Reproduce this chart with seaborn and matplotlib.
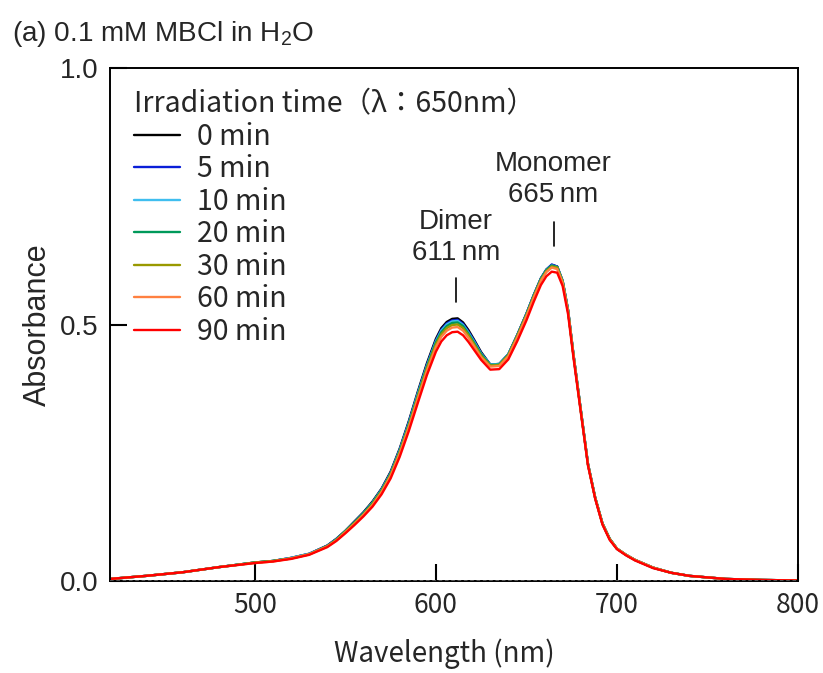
import pandas as pd
import matplotlib
matplotlib.use('Agg')
import matplotlib.pyplot as plt
import seaborn as sns
from matplotlib.font_manager import FontProperties

# wavelength grid (nm)
wavelength = [420, 440, 460, 480, 500, 510, 520, 530,
              540, 545, 550, 555, 560, 565, 570, 575, 580, 585, 590, 595, 600,
              603, 606, 609, 612, 615, 618, 621, 625,
              630, 635, 640, 645, 650,
              654, 658, 661, 664, 667, 670, 673, 676,
              680, 684, 688, 692, 696, 700,
              705, 710, 720, 730, 740, 760, 780, 800]

abs_0min = [0.004, 0.010, 0.017, 0.027, 0.036, 0.039, 0.045, 0.053,
            0.069, 0.082, 0.098, 0.116, 0.134, 0.155, 0.180, 0.213, 0.258, 0.311, 0.369, 0.424, 0.472,
            0.493, 0.505, 0.511, 0.512, 0.504, 0.489, 0.471, 0.446,
            0.422, 0.423, 0.442, 0.480, 0.521,
            0.557, 0.590, 0.607, 0.616, 0.613, 0.585, 0.528, 0.441,
            0.334, 0.228, 0.162, 0.112, 0.082, 0.063,
            0.051, 0.041, 0.026, 0.016, 0.010, 0.004, 0.002, 0.001]
abs_5min = [0.004, 0.010, 0.017, 0.027, 0.036, 0.039, 0.045, 0.053,
            0.069, 0.082, 0.097, 0.115, 0.133, 0.153, 0.179, 0.211, 0.256, 0.309, 0.366, 0.421, 0.469,
            0.490, 0.502, 0.508, 0.509, 0.501, 0.486, 0.469, 0.444,
            0.422, 0.423, 0.442, 0.480, 0.521,
            0.557, 0.590, 0.607, 0.617, 0.613, 0.585, 0.528, 0.441,
            0.334, 0.228, 0.162, 0.112, 0.082, 0.063,
            0.051, 0.041, 0.026, 0.016, 0.010, 0.004, 0.002, 0.001]
abs_10min = [0.004, 0.010, 0.017, 0.027, 0.036, 0.039, 0.045, 0.053,
             0.068, 0.081, 0.097, 0.114, 0.132, 0.153, 0.178, 0.210, 0.255, 0.307, 0.365, 0.419, 0.467,
             0.488, 0.500, 0.506, 0.507, 0.499, 0.484, 0.467, 0.443,
             0.422, 0.423, 0.442, 0.479, 0.520,
             0.556, 0.589, 0.606, 0.615, 0.612, 0.585, 0.528, 0.441,
             0.334, 0.228, 0.162, 0.112, 0.082, 0.063,
             0.051, 0.041, 0.026, 0.016, 0.010, 0.004, 0.002, 0.001]
abs_20min = [0.004, 0.010, 0.017, 0.027, 0.036, 0.039, 0.044, 0.052,
             0.068, 0.081, 0.097, 0.114, 0.132, 0.152, 0.177, 0.209, 0.253, 0.305, 0.362, 0.417, 0.465,
             0.485, 0.497, 0.503, 0.504, 0.497, 0.482, 0.465, 0.442,
             0.421, 0.422, 0.441, 0.479, 0.520,
             0.556, 0.589, 0.606, 0.615, 0.612, 0.584, 0.527, 0.440,
             0.334, 0.228, 0.162, 0.112, 0.082, 0.063,
             0.051, 0.041, 0.026, 0.016, 0.010, 0.004, 0.002, 0.001]
abs_30min = [0.004, 0.010, 0.017, 0.027, 0.036, 0.039, 0.044, 0.052,
             0.068, 0.080, 0.096, 0.113, 0.130, 0.150, 0.175, 0.207, 0.251, 0.302, 0.359, 0.414, 0.461,
             0.481, 0.493, 0.499, 0.500, 0.493, 0.479, 0.462, 0.439,
             0.420, 0.421, 0.440, 0.478, 0.518,
             0.554, 0.587, 0.604, 0.613, 0.611, 0.583, 0.526, 0.440,
             0.333, 0.227, 0.162, 0.112, 0.082, 0.063,
             0.051, 0.041, 0.026, 0.016, 0.010, 0.004, 0.002, 0.001]
abs_60min = [0.004, 0.010, 0.017, 0.027, 0.035, 0.038, 0.044, 0.052,
             0.067, 0.079, 0.095, 0.111, 0.129, 0.148, 0.173, 0.205, 0.248, 0.299, 0.355, 0.409, 0.456,
             0.476, 0.488, 0.494, 0.495, 0.488, 0.474, 0.458, 0.436,
             0.418, 0.419, 0.438, 0.475, 0.516,
             0.552, 0.585, 0.602, 0.611, 0.608, 0.581, 0.525, 0.439,
             0.332, 0.227, 0.161, 0.111, 0.081, 0.063,
             0.051, 0.041, 0.026, 0.016, 0.010, 0.004, 0.002, 0.001]
abs_90min = [0.004, 0.010, 0.017, 0.027, 0.035, 0.038, 0.043, 0.051,
             0.066, 0.078, 0.093, 0.109, 0.126, 0.145, 0.169, 0.200, 0.242, 0.292, 0.347, 0.401, 0.447,
             0.467, 0.479, 0.485, 0.486, 0.479, 0.466, 0.451, 0.431,
             0.412, 0.413, 0.432, 0.468, 0.508,
             0.544, 0.577, 0.594, 0.603, 0.601, 0.575, 0.520, 0.435,
             0.330, 0.225, 0.160, 0.110, 0.080, 0.062,
             0.050, 0.040, 0.025, 0.016, 0.010, 0.004, 0.002, 0.001]

times = ['0 min', '5 min', '10 min', '20 min', '30 min', '60 min', '90 min']
colors = ['#000000', '#0A1ED8', '#3FBEEF', '#00995A', '#999900', '#FF8040', '#FF0000']
series = [abs_0min, abs_5min, abs_10min, abs_20min, abs_30min, abs_60min, abs_90min]

# peak labels
peaks = [611, 665]
peak_names = ['Dimer', 'Monomer']

sns.set_style('ticks')
plt.rcParams['font.family'] = ['Liberation Sans', 'DejaVu Sans']
plt.rcParams['mathtext.default'] = 'regular'
plt.rcParams['xtick.direction'] = 'in'
plt.rcParams['ytick.direction'] = 'in'

arial = FontProperties(family='Liberation Sans', size=20)
gothic = FontProperties(family=['Noto Sans CJK JP', 'DejaVu Sans'], size=19)
gothic_leg = FontProperties(family=['Noto Sans CJK JP', 'DejaVu Sans'], size=20.5)

df = pd.concat([pd.DataFrame({'Wavelength': wavelength, 'Absorbance': a, 'time': t})
                for t, a in zip(times, series)], ignore_index=True)

fig = plt.figure(figsize=(8.23, 6.73), dpi=100)
ax = fig.add_axes([110/823, 1 - 581/673, 688/823, 513/673])

sns.lineplot(data=df, x='Wavelength', y='Absorbance', hue='time', hue_order=times,
             palette=dict(zip(times, colors)), estimator=None, sort=False,
             linewidth=1.7, ax=ax)

ax.axhline(0, color='0.35', lw=1.3, ls=(0, (2, 1.5)), zorder=5)

ax.set_xlim(420, 800)
ax.set_ylim(0, 1.0)
ax.set_xticks([500, 600, 700, 800])
ax.set_yticks([0.0, 0.5, 1.0])
ax.set_yticklabels(['0.0', '0.5', '1.0'], fontproperties=arial)
ax.set_xticklabels(['500', '600', '700', '800'], fontproperties=gothic)
ax.tick_params(direction='in', length=12, width=1.5, color='black', pad=8,
               bottom=True, left=True, top=False, right=False)
for s in ax.spines.values():
    s.set_color('black')
    s.set_linewidth(1.4)

ax.set_xlabel('Wavelength (nm)', fontproperties=FontProperties(family=['Noto Sans CJK JP'], size=20),
              labelpad=14)
ax.xaxis.label.set_x((444 - 110) / 688)
ax.set_ylabel('Absorbance', fontproperties=FontProperties(family='Liberation Sans', size=22),
              labelpad=5)

# peak markers and labels
ax.plot([peaks[0], peaks[0]], [0.544, 0.591], color='black', lw=1.2)
ax.plot([peaks[1], peaks[1]], [0.653, 0.700], color='black', lw=1.2)
ax.text(peaks[0], 0.615, f'{peak_names[0]}\n{peaks[0]}\u2009nm', fontproperties=arial,
        ha='center', va='bottom', linespacing=1.25)
ax.text(peaks[1], 0.727, f'{peak_names[1]}\n{peaks[1]}\u2009nm', fontproperties=arial,
        ha='center', va='bottom', linespacing=1.25)

handles, labels = ax.get_legend_handles_labels()
leg = ax.legend(handles, labels, title='Irradiation time（λ：650nm）', loc='upper left',
                bbox_to_anchor=(0.035, 0.959), frameon=False, prop=gothic_leg,
                title_fontproperties=gothic_leg, alignment='left', borderpad=0,
                borderaxespad=0, handlelength=1.6, handletextpad=0.6, labelspacing=0.09)
for h in leg.get_lines():
    h.set_linewidth(1.7)

fig.text(12/823, 1 - 41/673, r'(a) 0.1 mM MBCl in H$_2$O',
         fontproperties=FontProperties(family='Liberation Sans', size=20.1),
         va='baseline', ha='left')

fig.savefig('out.png', dpi=100)
